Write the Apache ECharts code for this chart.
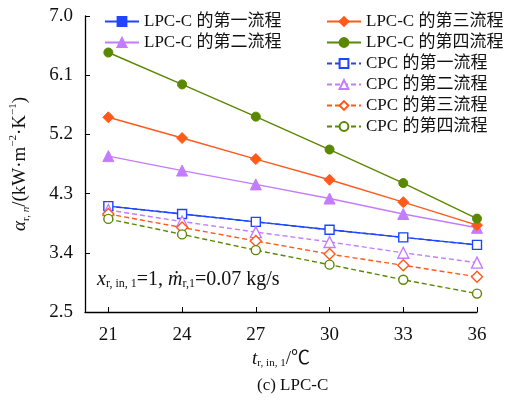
<!DOCTYPE html>
<html><head><meta charset="utf-8">
<script src="https://cdn.jsdelivr.net/npm/echarts@6/dist/echarts.min.js"></script>
<style>html,body{margin:0;padding:0;background:#fff}#c{width:508px;height:417px}</style>
</head><body><div id="c"></div>
<script>
const xValues = [21, 24, 27, 30, 33, 36];
const yTicks = [2.5, 3.4, 4.3, 5.2, 6.1, 7.0];
const seriesNames = ['LPC-C 的第一流程','LPC-C 的第二流程','LPC-C 的第三流程','LPC-C 的第四流程','CPC 的第一流程','CPC 的第二流程','CPC 的第三流程','CPC 的第四流程'];
const lpc1 = [4.11, 3.99, 3.87, 3.75, 3.635, 3.52];
const lpc2 = [4.87, 4.65, 4.44, 4.225, 3.99, 3.78];
const lpc3 = [5.46, 5.145, 4.825, 4.51, 4.17, 3.82];
const lpc4 = [6.445, 5.96, 5.47, 4.97, 4.46, 3.92];
const cpc1 = [4.11, 3.99, 3.87, 3.75, 3.635, 3.52];
const cpc2 = [4.05, 3.875, 3.715, 3.565, 3.40, 3.25];
const cpc3 = [3.99, 3.785, 3.58, 3.38, 3.21, 3.035];
const cpc4 = [3.915, 3.68, 3.44, 3.22, 2.99, 2.78];

const blue='#1f45ff', purple='#c47cff', orange='#ff5a1a', green='#5a8800';
const FONT = "'Liberation Serif','Noto Sans CJK SC',serif";

function mk(name, data, color, symbol, size, dashed, open){
  return {
    name, type:'line', data: xValues.map((x,i)=>[x,data[i]]),
    symbol, symbolSize:size, showSymbol:true,
    lineStyle:{color, width:1.4, type: dashed ? [5,3] : 'solid'},
    itemStyle: open ? {color:'#fff', borderColor:color, borderWidth:1.4} : {color, borderColor:color, borderWidth:1},
    z: open ? 3 : 2
  };
}
const series = [
  mk(seriesNames[0], lpc1, blue, 'rect', 8, false, false),
  mk(seriesNames[1], lpc2, purple, 'triangle', 11, false, false),
  mk(seriesNames[2], lpc3, orange, 'diamond', 11, false, false),
  mk(seriesNames[3], lpc4, green, 'circle', 9, false, false),
  mk(seriesNames[4], cpc1, blue, 'rect', 9, true, true),
  mk(seriesNames[5], cpc2, purple, 'triangle', 11, true, true),
  mk(seriesNames[6], cpc3, orange, 'diamond', 11, true, true),
  mk(seriesNames[7], cpc4, green, 'circle', 9, true, true)
];

const chart = echarts.init(document.getElementById('c'), null, {renderer:'canvas'});
const legendCommon = {orient:'vertical', itemGap:4, itemWidth:34, itemHeight:11,
  textStyle:{fontFamily:FONT, fontSize:17, color:'#111'}, padding:0};
chart.setOption({
  animation:false,
  backgroundColor:'#fff',
  textStyle:{fontFamily:FONT},
  grid:{left:85, right:31, top:16, bottom:105},
  legend:[
    Object.assign({left:104, top:13, data:seriesNames.slice(0,2)}, legendCommon),
    Object.assign({left:326, top:13, data:seriesNames.slice(2)}, legendCommon)
  ],
  xAxis:{
    type:'value', min:20.05, max:36,
    axisLine:{show:true, lineStyle:{color:'#000', width:1.3}},
    axisTick:{show:true, inside:true, length:5, customValues:xValues, lineStyle:{color:'#000'}},
    axisLabel:{customValues:xValues, fontFamily:FONT, fontSize:19, color:'#111', margin:14},
    splitLine:{show:false},
    name:'{t|t}{s|r, in, 1}{n|/℃}', nameLocation:'middle', nameGap:30,
    nameTextStyle:{rich:{
      t:{fontFamily:FONT, fontSize:19, fontStyle:'italic', color:'#111', lineHeight:22, verticalAlign:'bottom'},
      s:{fontFamily:FONT, fontSize:11, color:'#111', lineHeight:22, verticalAlign:'bottom'},
      n:{fontFamily:FONT, fontSize:19, color:'#111', lineHeight:22, verticalAlign:'bottom'}
    }}
  },
  yAxis:{
    type:'value', min:2.5, max:7.0,
    axisLine:{show:true, lineStyle:{color:'#000', width:1.3}},
    axisTick:{show:true, inside:true, length:5, customValues:yTicks, lineStyle:{color:'#000'}},
    axisLabel:{customValues:yTicks, formatter:v=>v.toFixed(1), fontFamily:FONT, fontSize:19, color:'#111', margin:12},
    splitLine:{show:false},
    name:'{a|α}{s|r, }{si|n}{t|/(kW·m}{p|−2}{t|·K}{p|−1}{t|)}', nameLocation:'middle', nameGap:53, nameRotate:90,
    nameTextStyle:{rich:{
      a:{fontFamily:FONT, fontSize:19, fontStyle:'italic', color:'#111', lineHeight:24, verticalAlign:'middle'},
      s:{fontFamily:FONT, fontSize:11, color:'#111', lineHeight:24, verticalAlign:'bottom'},
      si:{fontFamily:FONT, fontSize:11, fontStyle:'italic', color:'#111', lineHeight:24, verticalAlign:'bottom'},
      t:{fontFamily:FONT, fontSize:19, color:'#111', lineHeight:24, verticalAlign:'middle'},
      p:{fontFamily:FONT, fontSize:11, color:'#111', lineHeight:24, verticalAlign:'top'}
    }}
  },
  graphic:[
    {type:'text', left:97, top:270, style:{
      text:'{x|x}{s|r, in, 1}{t|=1, }{x|ṁ}{s|r,1}{t|=0.07 kg/s}',
      rich:{
        x:{fontFamily:FONT, fontSize:20, fontStyle:'italic', fill:'#111', lineHeight:22, verticalAlign:'bottom'},
        s:{fontFamily:FONT, fontSize:12, fill:'#111', lineHeight:22, verticalAlign:'bottom'},
        t:{fontFamily:FONT, fontSize:20, fill:'#111', lineHeight:22, verticalAlign:'bottom'}
      }}},
    {type:'text', left:257, top:377, style:{text:'(c) LPC-C', fontFamily:FONT, fontSize:17, fill:'#111'}}
  ],
  series
});
</script></body></html>
